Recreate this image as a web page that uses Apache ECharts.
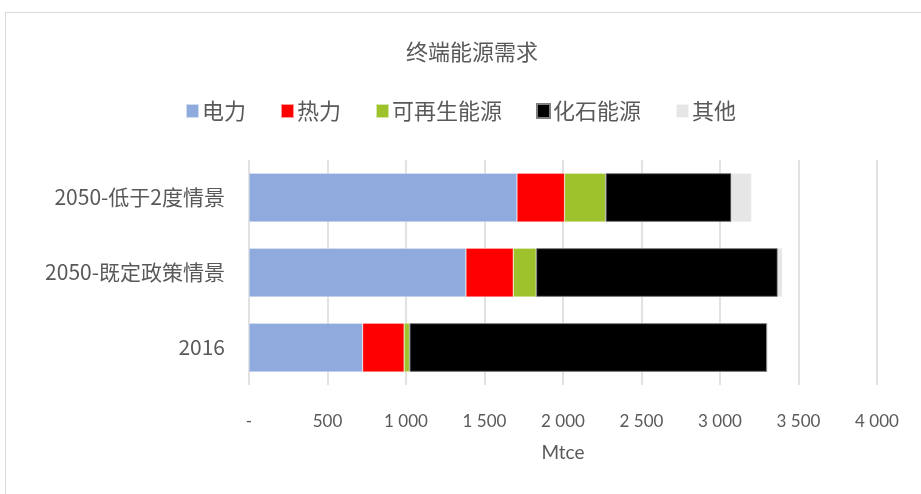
<!DOCTYPE html>
<html>
<head>
<meta charset="utf-8">
<script src="https://cdn.jsdelivr.net/npm/echarts@6/dist/echarts.min.js"></script>
<style>
    html, body { margin: 0; padding: 0; background: #fff; }
    #main { width: 921px; height: 494px; }
    #frame { position: absolute; left: 5px; top: 12px; width: 930px; height: 490px; border: 1px solid #d9d9d9; box-sizing: border-box; pointer-events: none; }
</style>
</head>
<body>
<div id="main"></div>
<div id="frame"></div>
<script>
    // 类别（自下而上）
    var categories = ['2016', '2050-既定政策情景', '2050-低于2度情景'];
    var seriesNames = ['电力', '热力', '可再生能源', '化石能源', '其他'];
    // 各类能源需求 (Mtce)
    var dianli = [724, 1382, 1707];
    var reli = [264, 301, 303];
    var kezaisheng = [34, 146, 261];
    var huashi = [2279, 1539, 802];
    var qita = [0, 29, 128];
    var xTicks = [0, 500, 1000, 1500, 2000, 2500, 3000, 3500, 4000];

    var colors = ['#8FAADC', '#FF0000', '#9DC22B', '#000000', '#E6E6E6'];
    var values = [dianli, reli, kezaisheng, huashi, qita];

    var cjk = '"Noto Sans CJK SC", sans-serif';
    var num = 'Lato, "Open Sans", sans-serif';

    var series = seriesNames.map(function (name, i) {
        return {
            name: name,
            type: 'bar',
            stack: 'total',
            barWidth: '65%',
            data: values[i],
            itemStyle: {
                color: colors[i],
                borderColor: i === 3 ? '#7f7f7f' : 'rgba(255,255,255,0.6)',
                borderWidth: i === 3 ? 1 : 0.5
            }
        };
    });

    var option = {
        animation: false,
        title: {
            text: '终端能源需求',
            left: 467,
            textAlign: 'center',
            top: 36,
            textStyle: { fontFamily: cjk, fontSize: 22, fontWeight: 'normal', color: '#595959' }
        },
        legend: {
            data: seriesNames,
            top: 95,
            left: 'center',
            itemWidth: 13,
            itemHeight: 14,
            itemGap: 34,
            icon: 'rect',
            textStyle: { fontFamily: cjk, fontSize: 22, color: '#595959', padding: [0, 0, 0, -2] }
        },
        grid: { left: 249, right: 44, top: 160, bottom: 109, containLabel: false },
        xAxis: {
            type: 'value',
            min: 0,
            max: 4000,
            interval: 500,
            name: 'Mtce',
            nameLocation: 'middle',
            nameGap: 58,
            nameTextStyle: { fontFamily: num, fontSize: 19, color: '#595959' },
            axisLine: { show: false },
            axisTick: { show: false },
            splitLine: { lineStyle: { color: '#d9d9d9', width: 1.5 } },
            axisLabel: {
                margin: 28,
                fontFamily: num,
                fontSize: 17,
                color: '#595959',
                formatter: function (v) {
                    if (xTicks.indexOf(v) < 0) return '';
                    if (v === 0) return '-';
                    return String(v).replace(/\B(?=(\d{3})+(?!\d))/g, ' ');
                }
            }
        },
        yAxis: {
            type: 'category',
            data: categories,
            axisLine: { show: false },
            axisTick: { show: false },
            axisLabel: {
                margin: 24,
                fontFamily: cjk,
                fontSize: 21,
                color: '#595959'
            }
        },
        series: series
    };

    var myChart = echarts.init(document.getElementById('main'));
    myChart.setOption(option);
</script>
</body>
</html>
